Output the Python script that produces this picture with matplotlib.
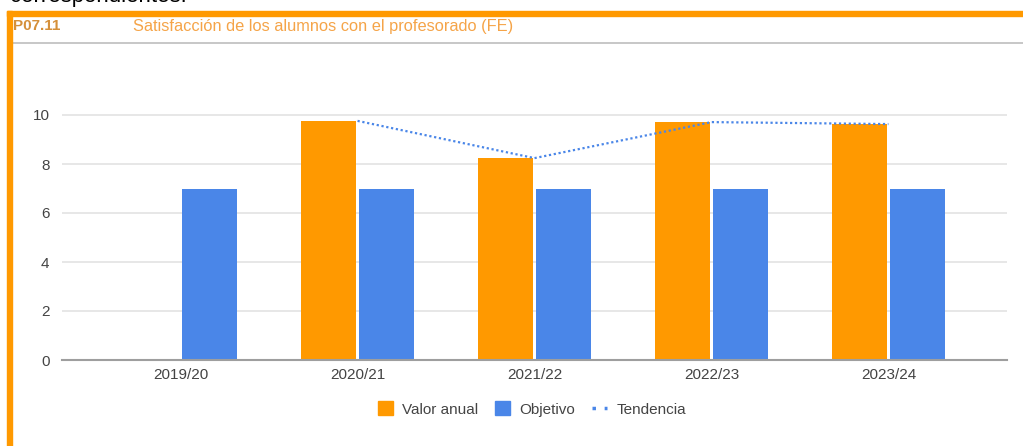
import numpy as np
import matplotlib.pyplot as plt
from matplotlib.patches import Rectangle
from matplotlib.lines import Line2D

plt.rcParams['font.family'] = ['Liberation Sans', 'DejaVu Sans']

# data
years = ['2019/20', '2020/21', '2021/22', '2022/23', '2023/24']
valor_anual = [np.nan, 9.76, 8.24, 9.71, 9.63]
objetivo = [7, 7, 7, 7, 7]
tendencia = [np.nan, 9.76, 8.24, 9.71, 9.63]

orange = '#ff9900'
blue = '#4a86e8'

W, H = 1023, 446
fig = plt.figure(figsize=(W / 100, H / 100), dpi=100)

# pixel helpers for figure-level decorations
def fx(px):
    return px / W

def fy(py):
    return 1 - py / H

# cut-off text above the card (only its lower edge shows)
fig.text(fx(10), fy(2), 'correspondientes:', fontsize=16, color='black', va='baseline')

# orange card frame (top and left edges visible)
fig.patches.append(Rectangle((fx(7), fy(16)), fx(W) - fx(7), fy(11) - fy(16),
                             transform=fig.transFigure, color=orange, zorder=5))
fig.patches.append(Rectangle((fx(7), 0), fx(12) - fx(7), fy(11),
                             transform=fig.transFigure, color=orange, zorder=5))
fig.lines.append(Line2D([fx(12), 1], [fy(43), fy(43)], transform=fig.transFigure,
                        color='#bdbdbd', lw=1.2))

# header
fig.text(fx(13), fy(26), 'P07.11', fontsize=11, fontweight='bold', color='#d5903a', va='center')
fig.text(fx(133), fy(26), 'Satisfacción de los alumnos con el profesorado (FE)',
         fontsize=11.8, color='#f5a448', va='center')

# axes: y=0 at 360px, y=10 at 115px
top_px = 360 - 10.5 * 24.5
ax = fig.add_axes([fx(62), fy(360), fx(1007) - fx(62), fy(top_px) - fy(360)])

x = np.arange(len(years))
w = 0.31
off = 0.164
ax.bar(x - off, valor_anual, w, color=orange, zorder=3, label='Valor anual')
ax.bar(x + off, objetivo, w, color=blue, zorder=3, label='Objetivo')
ax.plot(x, tendencia, color=blue, lw=1.6, ls=(0, (1, 1.2)), zorder=4, label='Tendencia')

ax.set_xlim(-0.67, 4.67)
ax.set_ylim(0, 10.5)
ax.set_yticks([0, 2, 4, 6, 8, 10])
ax.set_xticks(x)
ax.set_xticklabels(years)
ax.tick_params(axis='both', length=0, labelsize=11, colors='#444444')
ax.tick_params(axis='y', pad=9)
ax.tick_params(axis='x', pad=6)
ax.grid(axis='y', color='#e3e3e3', lw=1.2, zorder=0)
for s in ['top', 'right', 'left']:
    ax.spines[s].set_visible(False)
ax.spines['bottom'].set_color('#9e9e9e')
ax.spines['bottom'].set_linewidth(1.5)
ax.spines['bottom'].set_zorder(5)

handles = [Rectangle((0, 0), 1, 1, color=orange),
           Rectangle((0, 0), 1, 1, color=blue),
           Line2D([0], [0], color=blue, lw=2.5, ls=(0, (1, 2.5)))]
fig.legend(handles, ['Valor anual', 'Objetivo', 'Tendencia'], loc='center',
           bbox_to_anchor=(fx(532), fy(409)), ncol=3, frameon=False, fontsize=11,
           handlelength=1.0, handleheight=1.0, handletextpad=0.6, columnspacing=1.1,
           labelcolor='#444444')

fig.savefig('out.png', dpi=100, facecolor='white')
